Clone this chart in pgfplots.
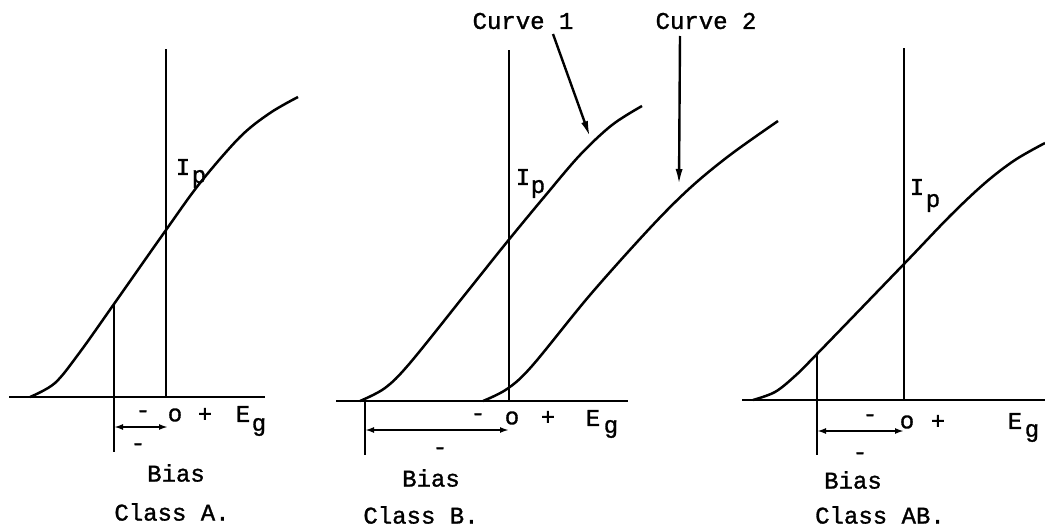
\documentclass[border=0pt]{standalone}
\usepackage{fontspec}
\setmainfont{Liberation Mono}[BoldFont=Liberation Mono, BoldFeatures={FakeBold=1.2}]
\usepackage{pgfplots}
\pgfplotsset{compat=1.18}
\usetikzlibrary{arrows.meta}
\tikzset{t/.style={font=\fontsize{24}{28}\selectfont\bfseries, inner sep=0pt, text=black}}
\begin{document}
\begin{tikzpicture}
\begin{axis}[
  width=1045pt, height=530pt, scale only axis, hide axis,
  xmin=0, xmax=1045, ymin=0, ymax=530, y dir=reverse, clip=false,
]
\coordinate (sw) at (rel axis cs:0,0);
\coordinate (ne) at (rel axis cs:1,1);
% ---------- Class A ----------
\addplot[black, line width=2.8pt] coordinates {(9,397) (265,397)};
\addplot[black, line width=2.8pt] coordinates {(166,49) (166,397)};
\addplot[black, line width=2.4pt] coordinates {(114,304) (114,452)};
\addplot[black, line width=2pt, {Latex[length=9pt,width=6pt]}-{Latex[length=9pt,width=6pt]}] coordinates {(114,427) (168,427)};
\addplot[black, line width=2.5pt, smooth, tension=0.55] coordinates {
 (30,397) (55,383) (80,352) (114,304) (166,230) (200,183) (240,137) (270,113) (298,97)};
\node[t] at (axis cs:143,414) {-};
\node[t] at (axis cs:175,415) {o};
\node[t] at (axis cs:205,415) {+};
\node[t] at (axis cs:243,414) {E};
\node[t] at (axis cs:259,427) {g};
\node[t] at (axis cs:138,447) {-};
\node[t] at (axis cs:176,473) {Bias};
\node[t] at (axis cs:172,512) {Class A.};
\node[t] at (axis cs:183,167) {I};
\node[t] at (axis cs:199,179) {p};
% ---------- Class B ----------
\addplot[black, line width=2.8pt] coordinates {(336,401) (628,401)};
\addplot[black, line width=2.8pt] coordinates {(509,50) (509,401)};
\addplot[black, line width=2.4pt] coordinates {(365,401) (365,455)};
\addplot[black, line width=2pt, {Latex[length=9pt,width=6pt]}-{Latex[length=9pt,width=6pt]}] coordinates {(365,430) (509,430)};
\addplot[black, line width=2.5pt, smooth, tension=0.55] coordinates {
 (360,401) (385,388) (410,363) (467,292) (507,242) (545,196) (580,155) (612,125) (642,106)};
\addplot[black, line width=2.5pt, smooth, tension=0.55] coordinates {
 (483,401) (507,389) (532,366) (590,295) (650,228) (690,188) (730,155) (778,121)};
\addplot[black, line width=2.4pt, -{Latex[length=16pt,width=7pt]}] coordinates {(553,34) (590,137)};
\addplot[black, line width=2.4pt, -{Latex[length=16pt,width=7pt]}] coordinates {(680,36) (679,185)};
\node[t] at (axis cs:523,21) {Curve 1};
\node[t] at (axis cs:706,21) {Curve 2};
\node[t] at (axis cs:478,417) {-};
\node[t] at (axis cs:512,418) {o};
\node[t] at (axis cs:548,418) {+};
\node[t] at (axis cs:593,418) {E};
\node[t] at (axis cs:611,429) {g};
\node[t] at (axis cs:440,451) {-};
\node[t] at (axis cs:431,478) {Bias};
\node[t] at (axis cs:421,515) {Class B.};
\node[t] at (axis cs:523,177) {I};
\node[t] at (axis cs:538,189) {p};
% ---------- Class AB ----------
\addplot[black, line width=2.8pt] coordinates {(742,400) (1045,400)};
\addplot[black, line width=2.8pt] coordinates {(904,48) (904,400)};
\addplot[black, line width=2.4pt] coordinates {(817,354) (817,455)};
\addplot[black, line width=2pt, {Latex[length=9pt,width=6pt]}-{Latex[length=9pt,width=6pt]}] coordinates {(817,431) (904,431)};
\addplot[black, line width=2.5pt, smooth, tension=0.55] coordinates {
 (753,400) (775,392) (795,376) (817,354) (904,264) (950,216) (985,183) (1015,160) (1045,143)};
\node[t] at (axis cs:870,418) {-};
\node[t] at (axis cs:907,422) {o};
\node[t] at (axis cs:938,422) {+};
\node[t] at (axis cs:1015,421) {E};
\node[t] at (axis cs:1032,433) {g};
\node[t] at (axis cs:860,456) {-};
\node[t] at (axis cs:853,480) {Bias};
\node[t] at (axis cs:880,515) {Class AB.};
\node[t] at (axis cs:917,187) {I};
\node[t] at (axis cs:933,203) {p};
\end{axis}
\pgfresetboundingbox
\useasboundingbox (sw) rectangle (ne);
\end{tikzpicture}
\end{document}
